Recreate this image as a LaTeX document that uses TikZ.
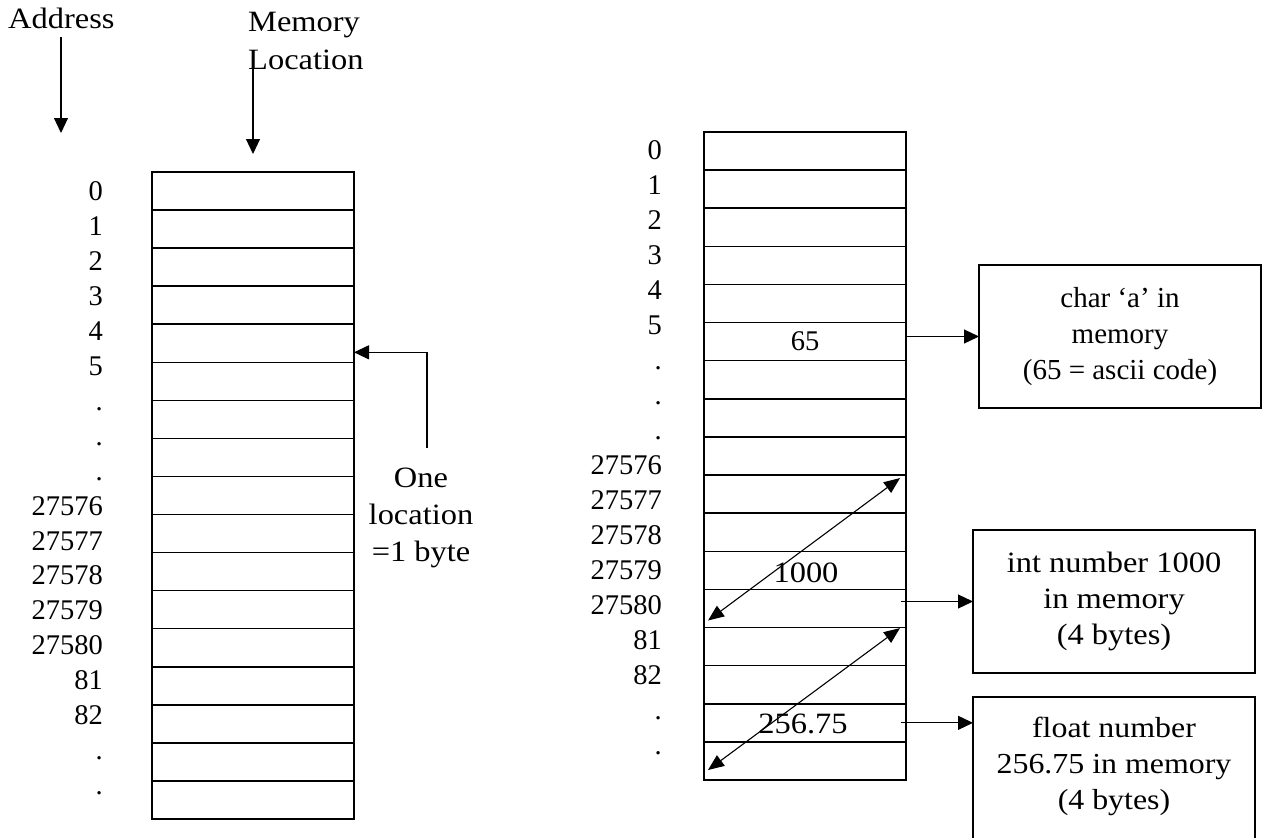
\documentclass[tikz,border=0pt]{standalone}
\usepackage{fontspec}
\setmainfont{Liberation Serif}
\newfontfamily\widefont{Liberation Serif}[FakeStretch=1.1]
\usetikzlibrary{arrows.meta,calc}
\begin{document}
\begin{tikzpicture}[x=1pt,y=-1pt,
  cell/.style={draw,line width=1.5pt,minimum width=202pt,minimum height=38.1pt,inner sep=0pt,outer sep=0pt},
  lbl/.style={anchor=base east,inner sep=0pt,font=\fontsize{28.5}{34}\selectfont},
  wtxt/.style={inner sep=0pt,font=\widefont\fontsize{29.5}{37}\selectfont},
  ntxt/.style={inner sep=0pt,font=\fontsize{28.5}{36}\selectfont},
  infobox/.style={draw,line width=1.5pt,align=center,minimum width=282pt,inner sep=0pt,outer sep=0pt},
  arr/.style={line width=1.2pt,-{Triangle[length=15pt,width=14pt]}},
  darr/.style={line width=1.1pt,{Triangle[length=16pt,width=13pt]}-{Triangle[length=16pt,width=13pt]}}]
\useasboundingbox (0,0) rectangle (1267,838);
\clip (0,0) rectangle (1267,838);

% memory cells
\foreach \i in {0,...,16} {
  \node[cell] (L\i) at (253,{172+38.06*(\i+0.5)}) {};
  \node[cell] (R\i) at (805,{132+38.12*(\i+0.5)}) {};
}

% address labels
\foreach \t [count=\k from 0] in {0,1,2,3,4,5,.,.,.,27576,27577,27578,27579,27580,81,82,.,.} {
  \node[lbl] (la\k) at (103,{200.5+34.95*\k}) {\t};
  \node[lbl] (ra\k) at (662,{159.5+35*\k}) {\t};
}

% headings
\node[wtxt,anchor=base west] (addr) at (8,28) {Address};
\coordinate (addrtop) at (61,37);
\coordinate (addrtip) at (61,133);
\draw[arr] (addrtop) -- (addrtip);

\node[wtxt,anchor=north west,align=left,font=\widefont\fontsize{29.5}{38}\selectfont] (memloc) at (248,12) {Memory\\Location};
\coordinate (memtop) at (253,65);
\coordinate (memtip) at (253,154);
\draw[arr] (memtop) -- (memtip);

% one location = 1 byte
\node[wtxt,align=center,anchor=north] (onetxt) at (421,468) {One\\location\\=1 byte};
\coordinate (ptrfoot) at (427,448);
\draw[arr] (ptrfoot) |- ([yshift=10pt]L4.south east);

% values
\node[ntxt,anchor=base] (v65) at (805,350) {65};
\node[wtxt,anchor=base] (v1000) at (806,582) {1000};
\node[wtxt,anchor=base] (v256) at (803,733) {256.75};

% info boxes
\node[infobox,minimum height=143pt,font=\fontsize{29}{36}\selectfont] (charbox) at (1120,336.5) {char ‘a’ in\\memory\\(65 = ascii code)};
\node[infobox,minimum height=143pt,font=\widefont\fontsize{29.5}{36}\selectfont] (intbox) at (1114,601.5) {int number 1000\\in memory\\(4 bytes)};
\node[infobox,minimum height=180pt,anchor=north,font=\widefont\fontsize{29}{36}\selectfont] (floatbox) at (1114,697) {float number\\256.75 in memory\\(4 bytes)\\\strut};

% connectors
\draw[arr] (R5.east |- charbox.west) -- (charbox.west);
\draw[arr] ($(R12.east |- intbox.west)+(-5,0)$) -- (intbox.west);
\draw[arr] ($(R15.east)+(-5,0)$) -- (R15.east -| floatbox.west);

\draw[darr] ($(R12.south west)+(4,-7)$) -- ($(R9.north east)+(-6,3)$);
\draw[darr] ($(R16.south west)+(4,-10)$) -- ($(R13.north east)+(-6,0.5)$);
\end{tikzpicture}
\end{document}
